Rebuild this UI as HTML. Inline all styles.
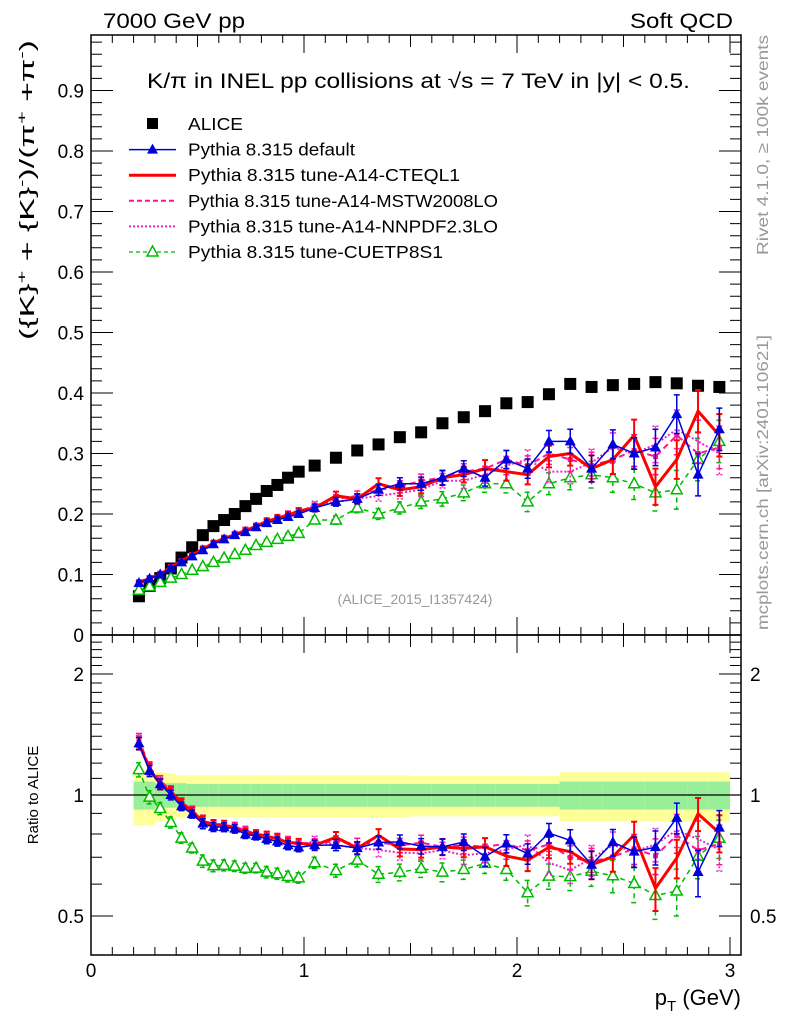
<!DOCTYPE html>
<html><head><meta charset="utf-8">
<style>
body{margin:0;background:#fff;}
svg{display:block;font-family:"Liberation Sans",sans-serif;}
</style></head>
<body>
<svg id="chart" width="786" height="1024" viewBox="0 0 786 1024" xmlns="http://www.w3.org/2000/svg">
<rect width="786" height="1024" fill="#fff"/>
<g id="bands"></g>
<g id="marks"></g>
<g id="axes"></g>
<text x="103" y="28" font-size="21" textLength="142" lengthAdjust="spacingAndGlyphs">7000 GeV pp</text>
<text x="630" y="28" font-size="21" textLength="103" lengthAdjust="spacingAndGlyphs">Soft QCD</text>
<text x="147" y="88" font-size="21" textLength="543" lengthAdjust="spacingAndGlyphs">K/π in INEL pp collisions at √s =  7 TeV in |y| &lt; 0.5.</text>
<text x="415" y="604" font-size="14" fill="#999" text-anchor="middle">(ALICE_2015_I1357424)</text>
<text transform="translate(768,255) rotate(-90)" font-size="16" fill="#999" textLength="220" lengthAdjust="spacingAndGlyphs">Rivet 4.1.0, ≥ 100k events</text>
<text transform="translate(768,630) rotate(-90)" font-size="16" fill="#999" textLength="295" lengthAdjust="spacingAndGlyphs">mcplots.cern.ch [arXiv:2401.10621]</text>
<text transform="translate(34,340) rotate(-90)" font-size="20" textLength="300" lengthAdjust="spacingAndGlyphs">({K}<tspan dy="-8" font-size="13">+</tspan><tspan dy="8"> + {K}</tspan><tspan dy="-8" font-size="13">-</tspan><tspan dy="8">)/(π</tspan><tspan dy="-8" font-size="13">+</tspan><tspan dy="8"> +π</tspan><tspan dy="-8" font-size="13">-</tspan><tspan dy="8">)</tspan></text>
<text transform="translate(38,795) rotate(-90)" font-size="15" text-anchor="middle">Ratio to ALICE</text>
<text x="741" y="1005" font-size="22" text-anchor="end">p<tspan dy="6" font-size="15">T</tspan><tspan dy="-6"> (GeV)</tspan></text>
<g id="legend"></g>
</svg>
<script>
const xCenters=[0.225,0.275,0.325,0.375,0.425,0.475,0.525,0.575,0.625,0.675,0.725,0.775,0.825,0.875,0.925,0.975,1.05,1.15,1.25,1.35,1.45,1.55,1.65,1.75,1.85,1.95,2.05,2.15,2.25,2.35,2.45,2.55,2.65,2.75,2.85,2.95];
const alice=[0.064,0.081,0.094,0.11,0.128,0.145,0.165,0.18,0.19,0.2,0.213,0.225,0.238,0.248,0.26,0.27,0.28,0.293,0.305,0.315,0.327,0.335,0.35,0.36,0.37,0.383,0.385,0.398,0.415,0.41,0.413,0.415,0.418,0.416,0.412,0.41];
const bandInner=[0.08,0.08,0.07,0.07,0.07,0.065,0.065,0.065,0.065,0.065,0.065,0.065,0.065,0.065,0.065,0.065,0.065,0.065,0.065,0.065,0.065,0.065,0.065,0.065,0.065,0.065,0.065,0.065,0.08,0.08,0.08,0.08,0.08,0.08,0.08,0.08];
const bandOuter=[0.16,0.16,0.14,0.13,0.12,0.12,0.12,0.12,0.12,0.12,0.12,0.12,0.12,0.12,0.12,0.12,0.12,0.12,0.12,0.12,0.12,0.115,0.115,0.115,0.115,0.115,0.115,0.115,0.14,0.14,0.14,0.14,0.14,0.14,0.14,0.14];
const pyDefault=[0.086,0.093,0.1,0.11,0.12,0.13,0.14,0.15,0.158,0.165,0.17,0.178,0.185,0.19,0.195,0.2,0.21,0.22,0.225,0.24,0.25,0.25,0.26,0.275,0.26,0.29,0.275,0.32,0.32,0.275,0.315,0.3,0.31,0.365,0.265,0.34];
const pyCteq=[0.086,0.094,0.1,0.112,0.122,0.132,0.142,0.152,0.16,0.165,0.172,0.18,0.188,0.193,0.198,0.205,0.21,0.23,0.225,0.25,0.24,0.245,0.26,0.265,0.275,0.27,0.265,0.295,0.3,0.275,0.29,0.33,0.245,0.29,0.37,0.33];
const pyMstw=[0.088,0.095,0.102,0.113,0.123,0.133,0.143,0.152,0.16,0.167,0.174,0.18,0.188,0.194,0.2,0.205,0.212,0.225,0.23,0.24,0.245,0.255,0.26,0.27,0.275,0.29,0.28,0.3,0.29,0.28,0.29,0.305,0.295,0.33,0.3,0.31];
const pyNnpdf=[0.087,0.094,0.101,0.111,0.122,0.132,0.14,0.15,0.158,0.165,0.172,0.178,0.186,0.192,0.198,0.203,0.215,0.22,0.225,0.23,0.235,0.24,0.255,0.255,0.265,0.28,0.29,0.27,0.27,0.285,0.31,0.3,0.315,0.34,0.32,0.3];
const pyCuetp=[0.074,0.08,0.087,0.094,0.1,0.107,0.113,0.12,0.127,0.133,0.14,0.148,0.153,0.158,0.163,0.168,0.19,0.19,0.21,0.2,0.21,0.22,0.225,0.235,0.25,0.25,0.22,0.25,0.26,0.265,0.26,0.25,0.235,0.24,0.29,0.32];
const mcErr=[0.003,0.003,0.003,0.003,0.003,0.003,0.004,0.004,0.004,0.004,0.004,0.004,0.005,0.005,0.005,0.005,0.006,0.007,0.008,0.009,0.01,0.011,0.012,0.013,0.014,0.015,0.016,0.018,0.02,0.022,0.024,0.026,0.03,0.032,0.035,0.035];
const xTickLabels=["0","1","2","3"];
const yTickLabels=["0.1","0.2","0.3","0.4","0.5","0.6","0.7","0.8","0.9"];
const ratioTickLabels=["0.5","1","2"];

const NS="http://www.w3.org/2000/svg";
const L=91,R=741,T=35,MB=635,RB=955;
const sx=v=>L+v*213;
const sy=v=>MB-v*605;
const ry=v=>795-Math.log2(v)*121;
function mk(tag,attrs,parent){const e=document.createElementNS(NS,tag);for(const k in attrs)e.setAttribute(k,attrs[k]);parent.appendChild(e);return e;}
const axes=document.getElementById('axes'),marks=document.getElementById('marks'),bands=document.getElementById('bands'),legend=document.getElementById('legend');

const edges=xCenters.map((x,i)=>{const w=i<16?0.025:0.05;return [x-w,x+w];});
xCenters.forEach((x,i)=>{
  const x0=sx(edges[i][0]),x1=sx(edges[i][1]);
  let r=mk('rect',{x:x0,y:ry(1+bandOuter[i]),width:x1-x0,height:ry(1-bandOuter[i])-ry(1+bandOuter[i]),fill:'#ffff99'},bands);
  
  
  let g=mk('rect',{x:x0,y:ry(1+bandInner[i]),width:x1-x0,height:ry(1-bandInner[i])-ry(1+bandInner[i]),fill:'#99ee99'},bands);
  
  
});
let one=mk('line',{x1:L,x2:R,y1:ry(1),y2:ry(1),stroke:'#000','stroke-width':1.2},bands);



const series=[
 {name:'pythia-default',vals:pyDefault,color:'#0000dd',w:1.5,dash:'',marker:'tri'},
 {name:'pythia-a14-cteql1',vals:pyCteq,color:'#ff0000',w:3,dash:'',marker:''},
 {name:'pythia-a14-mstw2008lo',vals:pyMstw,color:'#ff1493',w:2,dash:'6,4',marker:'sq'},
 {name:'pythia-a14-nnpdf23lo',vals:pyNnpdf,color:'#ee22cc',w:2,dash:'2,2',marker:''},
 {name:'pythia-cuetp8s1',vals:pyCuetp,color:'#00bb00',w:1.5,dash:'5,4',marker:'otri'}
];
function marker(type,x,y,c,g){
  if(type==='tri')return mk('path',{d:`M${x},${y-6}L${x+5.5},${y+4}L${x-5.5},${y+4}Z`,fill:c},g);
  if(type==='otri')return mk('path',{d:`M${x},${y-6}L${x+5.5},${y+4}L${x-5.5},${y+4}Z`,fill:'#fff',stroke:c,'stroke-width':1.5},g);
  if(type==='sq')return mk('rect',{x:x-2.5,y:y-2.5,width:5,height:5,fill:c},g);
  return null;
}
function drawSeries(s,yf,ratio,parent){
  const g=mk('g',{},parent);
  
  
  const pts=s.vals.map((v,i)=>[sx(xCenters[i]),yf(ratio?v/alice[i]:v)]);
  s.vals.forEach((v,i)=>{
    const e=ratio?mcErr[i]/alice[i]:mcErr[i];const c=ratio?v/alice[i]:v;
    const x=sx(xCenters[i]);
    mk('path',{d:`M${x},${yf(c+e)}V${yf(c-e)}M${x-3},${yf(c+e)}H${x+3}M${x-3},${yf(c-e)}H${x+3}`,stroke:s.color,'stroke-width':s.w>2?2:1.5,'stroke-dasharray':s.dash,fill:'none'},g);
  });
  const l=mk('polyline',{points:pts.map(p=>p.join(',')).join(' '),fill:'none',stroke:s.color,'stroke-width':s.w,'stroke-dasharray':s.dash},g);
  
  
  pts.forEach(p=>{const m=marker(s.marker,p[0],p[1],s.color,g);if(m){}});
}
const ag=mk('g',{},marks);


alice.forEach((v,i)=>{const r=mk('rect',{x:sx(xCenters[i])-6,y:sy(v)-6,width:12,height:12,fill:'#000'},ag);
 
 });
series.slice().reverse().forEach(s=>{drawSeries(s,sy,false,marks);});
const defs=mk('defs',{},document.getElementById('chart'));
mk('rect',{x:L,y:MB,width:R-L,height:RB-MB},mk('clipPath',{id:'rc'},defs));
const rg=mk('g',{'clip-path':'url(#rc)'},marks);
series.slice().reverse().forEach(s=>{drawSeries(s,ry,true,rg);});

[[T,MB],[MB,RB]].forEach(([a,b],k)=>{const f=mk('rect',{x:L,y:a,width:R-L,height:b-a,fill:'none',stroke:'#000','stroke-width':1.5},axes);
 
 });
let tp='';
for(let i=0;i<=30;i++){const v=i/10,x=sx(v);if(x>R)break;const len=i%10===0?18:(i%5===0?12:8);
 tp+=`M${x},${MB}v${-len}M${x},${T}v${len}M${x},${RB}v${-len}M${x},${MB}v${len}`;}
for(let i=0;i<=49;i++){const v=i*0.02,y=sy(v);if(y<T)break;const len=i%5===0?22:11;tp+=`M${L},${y}h${len}M${R},${y}h${-len}`;}
for(let i=4;i<=25;i++){const v=i/10,y=ry(v);const len=(i===5||i===10||i===20)?22:11;tp+=`M${L},${y}h${len}M${R},${y}h${-len}`;}
const tk=mk('path',{d:tp,stroke:'#000','stroke-width':1,fill:'none'},axes);


xTickLabels.forEach((t,i)=>{const e=mk('text',{x:sx(i),y:977,'font-size':19,'text-anchor':'middle'},axes);e.textContent=t;
 
 });
yTickLabels.forEach((t,i)=>{const e=mk('text',{x:84,y:sy((i+1)/10)+7,'font-size':19,'text-anchor':'end'},axes);e.textContent=t;
 
 });
const z=mk('text',{x:84,y:642,'font-size':19,'text-anchor':'end'},axes);z.textContent='0';


[0.5,1,2].forEach((v,i)=>{[[84,'end'],[750,'start']].forEach(([x,a])=>{const e=mk('text',{x:x,y:ry(v)+7,'font-size':19,'text-anchor':a},axes);e.textContent=ratioTickLabels[i];
 
 });});

const lg=[['ALICE','#000','','sq2',1,55],['Pythia 8.315 default','#0000dd','','tri',1.5,167],['Pythia 8.315 tune-A14-CTEQL1','#ff0000','','',3,272],['Pythia 8.315 tune-A14-MSTW2008LO','#ff1493','5,3','',2,310],['Pythia 8.315 tune-A14-NNPDF2.3LO','#ee22cc','2,2','',2,310],['Pythia 8.315 tune-CUETP8S1','#00bb00','4,3','otri',1.3,255]];
lg.forEach((e,i)=>{const y=124+i*25.6;const g=mk('g',{},legend);
 
 
 if(e[3]==='sq2')mk('rect',{x:147,y:y-6,width:11,height:11,fill:'#000'},g);
 else{mk('line',{x1:129,x2:176,y1:y,y2:y,stroke:e[1],'stroke-width':e[4],'stroke-dasharray':e[2]},g);marker(e[3],152.5,y,e[1],g);}
 const t=mk('text',{x:188,y:y+6,'font-size':17.5,textLength:e[5],lengthAdjust:'spacingAndGlyphs'},g);t.textContent=e[0];});
</script>
</body></html>
